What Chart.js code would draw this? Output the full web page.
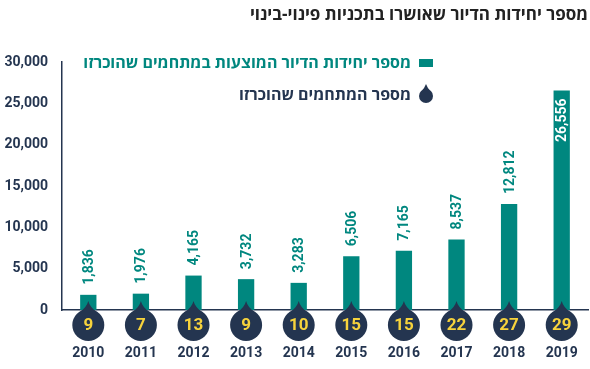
<!DOCTYPE html>
<html lang="he">
<head>
<meta charset="utf-8">
<script src="https://cdn.jsdelivr.net/npm/chart.js@4.4.1/dist/chart.umd.min.js"></script>
<style>
  html, body { margin: 0; padding: 0; background: #fff; }
  #wrap { width: 590px; height: 369px; }
</style>
</head>
<body>
<div id="wrap"><canvas id="chart" width="590" height="369"></canvas></div>
<script>
// dados do gráfico
const years = ['2010', '2011', '2012', '2013', '2014', '2015', '2016', '2017', '2018', '2019'];
const housingUnits = [1836, 1976, 4165, 3732, 3283, 6506, 7165, 8537, 12812, 26556];
const compounds = [9, 7, 13, 9, 10, 15, 15, 22, 27, 29];
const yTicks = [0, 5000, 10000, 15000, 20000, 25000, 30000];

const titleText = 'מספר יחידות הדיור שאושרו בתכניות פינוי-בינוי';
const legendBars = 'מספר יחידות הדיור המוצעות במתחמים שהוכרזו';
const legendDrops = 'מספר המתחמים שהוכרזו';

const TEAL = '#00877f';
const NAVY = '#243550';
const YELLOW = '#f7d33c';
const HEB = '"Open Sans", "DejaVu Sans", sans-serif';
const NUM = 'Roboto, "Open Sans", sans-serif';

// desenha a "gota" (círculo com bico para cima)
function drawDrop(ctx, x, y, r, tip) {
    ctx.beginPath();
    ctx.arc(x, y, r, 0, Math.PI * 2);
    ctx.fill();
    ctx.beginPath();
    ctx.moveTo(x - r * 0.6, y - r * 0.75);
    ctx.quadraticCurveTo(x - 1.5, y - r - tip * 0.2, x, y - r - tip);
    ctx.quadraticCurveTo(x + 1.5, y - r - tip * 0.2, x + r * 0.6, y - r * 0.75);
    ctx.closePath();
    ctx.fill();
}

const extras = {
    id: 'extras',
    afterDatasetsDraw(chart) {
        const ctx = chart.ctx;
        const meta = chart.getDatasetMeta(0);
        const xScale = chart.scales.x;
        const bottom = chart.chartArea.bottom;

        // rótulos de valor (rotacionados)
        ctx.save();
        ctx.font = 'bold 14px ' + NUM;
        ctx.textBaseline = 'middle';
        meta.data.forEach((bar, i) => {
            const label = housingUnits[i].toLocaleString('en-US');
            ctx.save();
            if (i === housingUnits.length - 1) {
                ctx.translate(bar.x, bar.y + 8);
                ctx.rotate(-Math.PI / 2);
                ctx.textAlign = 'right';
                ctx.fillStyle = '#ffffff';
            } else {
                ctx.translate(bar.x, bar.y - 10);
                ctx.rotate(-Math.PI / 2);
                ctx.textAlign = 'left';
                ctx.fillStyle = TEAL;
            }
            ctx.fillText(label, 0, 1);
            ctx.restore();
        });
        ctx.restore();

        // gotas com o número de mitchamim
        ctx.save();
        compounds.forEach((n, i) => {
            const x = xScale.getPixelForValue(i);
            const cy = bottom + 15;
            ctx.fillStyle = NAVY;
            drawDrop(ctx, x, cy, 16, 8);
            ctx.fillStyle = YELLOW;
            ctx.font = 'bold 17px ' + NUM;
            ctx.textAlign = 'center';
            ctx.textBaseline = 'middle';
            ctx.fillText(String(n), x, cy + 1);
        });
        ctx.restore();
    },
    afterDraw(chart) {
        const ctx = chart.ctx;
        ctx.save();
        ctx.direction = 'rtl';
        ctx.textAlign = 'right';
        ctx.textBaseline = 'middle';

        // título
        ctx.fillStyle = '#222222';
        ctx.font = 'bold 17px ' + HEB;
        ctx.fillText(titleText, 588, 15);

        // legenda
        ctx.fillStyle = TEAL;
        ctx.fillRect(419, 59, 14, 8);
        ctx.font = 'bold 16px ' + HEB;
        ctx.fillText(legendBars, 411, 63);

        ctx.fillStyle = NAVY;
        drawDrop(ctx, 426, 96, 7, 5);
        ctx.fillText(legendDrops, 411, 95);
        ctx.restore();
    }
};

const canvas = document.getElementById('chart');
new Chart(canvas.getContext('2d'), {
    type: 'bar',
    data: {
        labels: years,
        datasets: [{
            data: housingUnits,
            backgroundColor: TEAL,
            borderWidth: 0,
            barPercentage: 0.31,
            categoryPercentage: 1
        }]
    },
    options: {
        responsive: false,
        animation: false,
        layout: { padding: { top: 62, left: 5, right: 2, bottom: 6 } },
        plugins: {
            legend: { display: false },
            tooltip: { enabled: false }
        },
        scales: {
            x: {
                grid: { display: false, drawTicks: false },
                border: { color: NAVY, width: 1.5 },
                afterFit: axis => {
                    axis.height = 53;
                    axis.paddingLeft = 0;
                    axis.paddingRight = 0;
                },
                ticks: {
                    padding: 35,
                    color: NAVY,
                    maxRotation: 0,
                    font: { family: NUM, size: 14, weight: 'bold' }
                }
            },
            y: {
                min: 0,
                max: 30000,
                afterBuildTicks: axis => { axis.ticks = yTicks.map(v => ({ value: v })); },
                afterFit: axis => { axis.width = 57; },
                grid: { display: false, drawTicks: false },
                border: { color: NAVY, width: 1.5 },
                ticks: {
                    padding: 14,
                    color: NAVY,
                    font: { family: NUM, size: 14, weight: 'bold' },
                    callback: v => v.toLocaleString('en-US')
                }
            }
        }
    },
    plugins: [extras]
});
</script>
</body>
</html>
